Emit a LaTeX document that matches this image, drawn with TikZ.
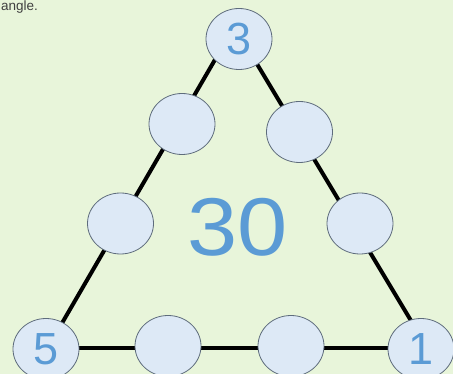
\documentclass[tikz,border=0pt]{standalone}
\usepackage{fontspec}
\setmainfont{Liberation Sans}
\usetikzlibrary{shapes.geometric}
\definecolor{bg}{HTML}{E8F5DA}
\definecolor{cfill}{HTML}{DDE9F6}
\definecolor{cdraw}{HTML}{5E6C7C}
\definecolor{digit}{HTML}{5B9BD5}
\definecolor{txt}{HTML}{404040}
\begin{document}
\begin{tikzpicture}[x=1pt,y=-1pt,
  slot/.style={ellipse,draw=cdraw,line width=0.8pt,fill=cfill,minimum width=66pt,minimum height=61pt,inner sep=0pt},
  num/.style={text=digit,font=\fontsize{45}{45}\selectfont},
  edge/.style={line width=4pt,black}]
\fill[bg] (0,0) rectangle (453,374);
\useasboundingbox (0,0) rectangle (453,374);
\node[anchor=north west,inner sep=0pt,text=txt,font=\fontsize{13.5}{13.5}\selectfont] (cap) at (1,1) {angle.};
% line ends
\coordinate (tl) at (227,39);
\coordinate (tr) at (242,39);
\coordinate (bl) at (47,349);
\coordinate (br) at (428,349);
\coordinate (bl2) at (46,348);
\coordinate (br2) at (421,348);
\draw[edge] (tl) -- (bl);
\draw[edge] (tr) -- (br);
\draw[edge] (bl2) -- (br2);
\node[slot,num] (top) at (239,39) {3};
\node[slot] (l1) at (182,124) {};
\node[slot] (l2) at (120.5,223.5) {};
\node[slot] (r1) at (299.5,132) {};
\node[slot] (r2) at (360,223.5) {};
\node[slot,num] (bl5) at (46,349) {5};
\node[slot] (b1) at (168,346) {};
\node[slot] (b2) at (291,346) {};
\node[slot,num] (br1) at (421,349) {1};
\node[text=digit,font=\fontsize{82}{82}\selectfont,xscale=1.1] (sum) at (238,227) {30};
\end{tikzpicture}
\end{document}
